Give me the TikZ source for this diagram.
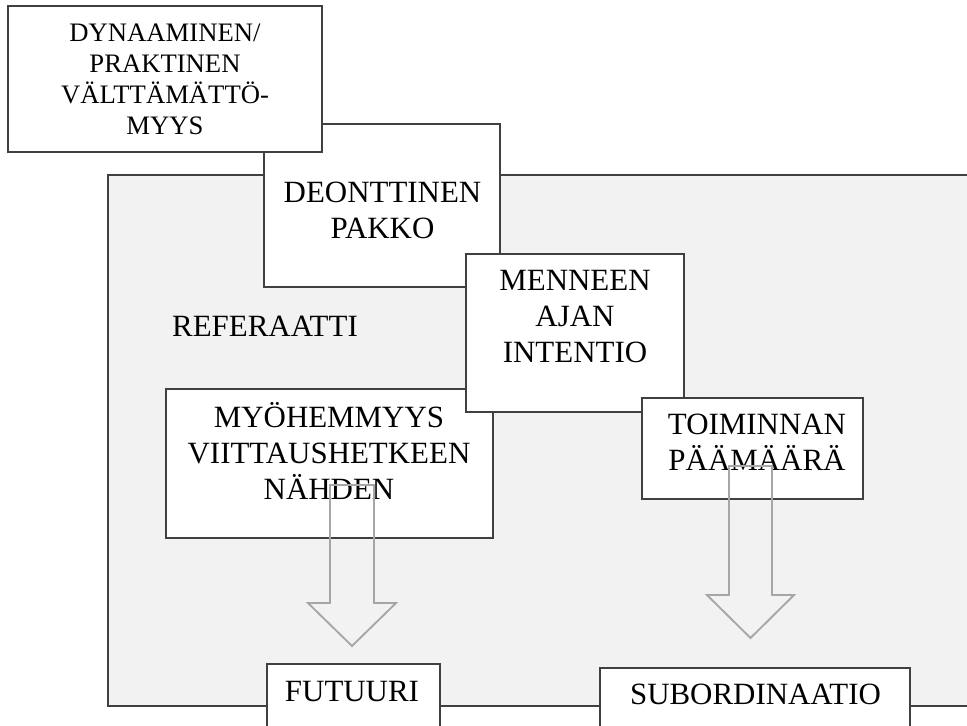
\documentclass[tikz,border=0pt]{standalone}
\usepackage{fontspec}
\setmainfont{Liberation Serif}
\usetikzlibrary{calc}
\usetikzlibrary{fit}
\definecolor{edge}{HTML}{404040}
\definecolor{panel}{HTML}{F2F2F2}
\definecolor{arrowgray}{HTML}{A6A6A6}
\tikzset{
	box/.style={draw=edge, line width=0.8pt, fill=white, inner sep=0pt},
	lbl/.style={align=center, inner sep=0pt, font=\fontsize{23.2}{27}\selectfont},
	small lbl/.style={lbl, font=\fontsize{20}{23.2}\selectfont},
	hollow/.style={draw=arrowgray, line width=1.4pt, line join=miter}
}

\begin{document}
\begin{tikzpicture}[x=0.75pt,y=-0.75pt]
		\useasboundingbox (0,0) rectangle (967,725);
		\clip (0,0) rectangle (967,725);
%		\draw[very thin,densely dashed] (0,0) grid[step=50] (967,725);
		\draw[draw=edge, line width=0.9pt, fill=panel] (108,175) rectangle (1000,706);
		\node [lbl] (ref) at (265,326.5) {REFERAATTI};
		% upper boxes
		\node [box, fit={(264,124) (500,287)}] (deo) {};
		\node [lbl] (deotxt) at (382.5,210) {DEONTTINEN\\PAKKO};
		\node [box, fit={(8,6) (322,152)}] (dyn) {};
		\node [small lbl] (dyntxt) at (165,79) {DYNAAMINEN/\\PRAKTINEN\\VÄLTTÄMÄTTÖ-\\MYYS};
		\node [box, fit={(166,389) (493,538)}] (myo) {};
		\node [lbl] (myotxt) at (329,450.5) {MYÖHEMMYYS\\VIITTAUSHETKEEN\\NÄHDEN};
		\node [box, fit={(466,254) (684,412)}] (men) {};
		\node [lbl] (mentxt) at (575,317) {MENNEEN\\AJAN\\INTENTIO};
		\node [box, fit={(642,398) (863,499)}] (toi) {};
		\node [lbl] (toitxt) at (757,442.5) {TOIMINNAN\\PÄÄMÄÄRÄ};
		% lower boxes
		\node [box, fit={(267,664) (440,760)}] (fut) {};
		\node [lbl] (futtxt) at (352,692) {FUTUURI};
		\node [box, fit={(600,668) (910,760)}] (sub) {};
		\node [lbl] (subtxt) at (755.5,694.5) {SUBORDINAATIO};
		% block arrows
		\coordinate (fa) at (352,485);
		\coordinate (fb) at (352,646);
		\draw [hollow] ($(fa)+(-22,0)$) -- ($(fa)+(22,0)$) -- ($(fb)+(22,-43)$)
			-- ($(fb)+(44,-43)$) -- (fb) -- ($(fb)+(-44,-43)$) -- ($(fb)+(-22,-43)$) -- cycle;
		\coordinate (sa) at (750.5,466);
		\coordinate (sb) at (750.5,638);
		\draw [hollow] ($(sa)+(-21.5,0)$) -- ($(sa)+(21.5,0)$) -- ($(sb)+(21.5,-43)$)
			-- ($(sb)+(43.5,-43)$) -- (sb) -- ($(sb)+(-43.5,-43)$) -- ($(sb)+(-21.5,-43)$) -- cycle;
\end{tikzpicture}
\end{document}
